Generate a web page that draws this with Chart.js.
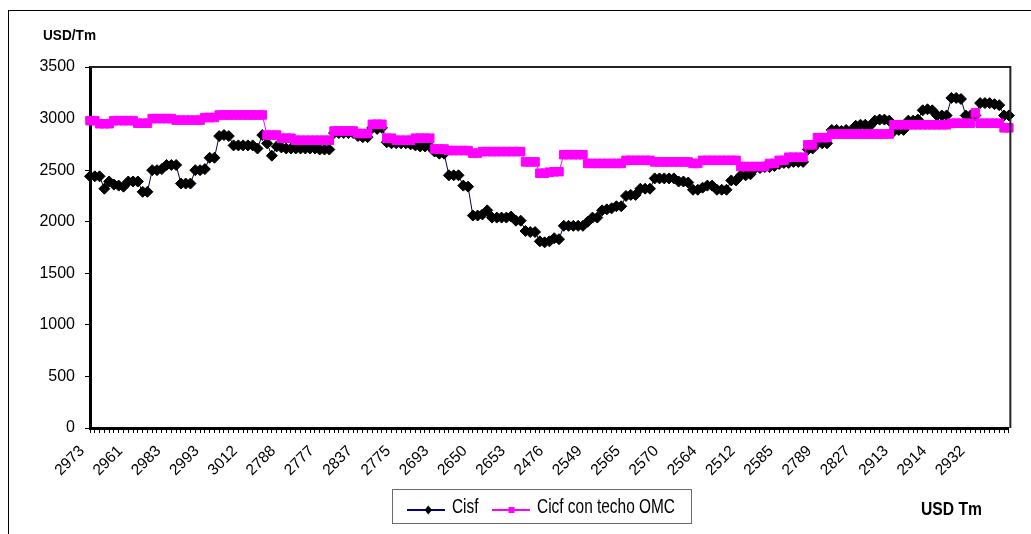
<!DOCTYPE html>
<html><head><meta charset="utf-8">
<script src="https://cdn.jsdelivr.net/npm/chart.js@4.4.0/dist/chart.umd.min.js"></script>
<style>html,body{margin:0;padding:0;background:#fff;}canvas{display:block}</style>
</head><body>
<canvas id="c" width="1031" height="534" style="width:1031px;height:534px"></canvas>
<script>
const tickLabels = ['2973','2961','2983','2993','3012','2788','2777','2837','2775','2693','2650','2653','2476','2549','2565','2570','2564','2512','2585','2789','2827','2913','2914','2932'];
const labelEvery = 8;
const seriesNames = ['Cisf', 'Cicf con techo OMC'];
const yAxisTitle = 'USD/Tm';
const xAxisTitle = 'USD Tm';

const cisf = [
2440,2440,2440,2320,2390,2360,2350,2340,2390,2390,
2390,2290,2290,2500,2500,2510,2550,2550,2550,2370,
2370,2370,2500,2500,2510,2620,2620,2830,2840,2830,
2740,2740,2740,2740,2740,2710,2840,2760,2640,2730,
2720,2710,2710,2710,2710,2710,2710,2710,2700,2700,
2700,2860,2860,2860,2860,2860,2830,2820,2820,2910,
2900,2910,2770,2760,2760,2760,2760,2750,2740,2730,
2730,2730,2680,2660,2660,2450,2450,2450,2350,2340,
2060,2060,2070,2110,2040,2040,2040,2040,2050,2010,
2010,1910,1900,1900,1810,1800,1810,1840,1830,1960,
1960,1960,1960,1960,2000,2040,2040,2110,2120,2130,
2150,2150,2250,2260,2260,2320,2320,2320,2420,2420,
2420,2420,2420,2390,2390,2380,2310,2310,2330,2350,
2350,2310,2310,2310,2400,2400,2450,2450,2460,2520,
2520,2530,2530,2540,2560,2570,2570,2580,2580,2580,
2700,2710,2760,2760,2760,2890,2890,2880,2890,2880,
2930,2940,2940,2930,2980,2990,2990,2980,2880,2890,
2890,2980,2980,2990,3080,3090,3080,3030,3030,3030,
3200,3200,3190,3030,3030,3030,3150,3150,3150,3140,
3130,3030,3030
];

const cicfTecho = [
2980,2980,2950,2950,2950,2980,2980,2980,2980,2980,
2955,2955,2955,3000,3000,3000,3000,3000,2985,2985,
2985,2985,2985,2985,3010,3010,3010,3035,3035,3035,
3035,3035,3035,3035,3035,3035,3035,2840,2840,2840,
2810,2810,2810,2790,2790,2790,2790,2790,2790,2790,
2790,2880,2880,2880,2880,2880,2855,2855,2855,2945,
2945,2945,2810,2810,2790,2790,2790,2790,2810,2810,
2810,2810,2705,2705,2705,2690,2690,2690,2690,2690,
2665,2665,2680,2680,2680,2680,2680,2680,2680,2680,
2680,2580,2580,2580,2470,2470,2480,2485,2485,2650,
2650,2650,2650,2650,2565,2565,2565,2565,2565,2565,
2565,2565,2595,2595,2595,2595,2595,2595,2580,2580,
2580,2580,2580,2580,2580,2580,2565,2565,2595,2595,
2595,2595,2595,2595,2595,2595,2535,2535,2535,2535,
2535,2535,2565,2565,2595,2595,2625,2625,2625,2625,
2745,2745,2815,2815,2815,2850,2850,2850,2850,2850,
2850,2850,2850,2850,2850,2850,2850,2850,2940,2940,
2940,2940,2940,2940,2940,2940,2940,2940,2940,2940,
2955,2955,2955,2955,2955,3055,2955,2955,2955,2955,
2955,2910,2910
];

const categories = cisf.map((_, i) => (i % labelEvery === 0 && tickLabels[i / labelEvery]) ? tickLabels[i / labelEvery] : '');

function fitText(ctx, text, x, y, width, font, color) {
  ctx.save();
  ctx.font = font;
  ctx.fillStyle = color;
  ctx.textAlign = 'left';
  ctx.textBaseline = 'alphabetic';
  const w = ctx.measureText(text).width;
  ctx.translate(x, y);
  ctx.scale(width / w, 1);
  ctx.fillText(text, 0, 0);
  ctx.restore();
}

const extras = {
  id: 'extras',
  afterDraw(chart) {
    const ctx = chart.ctx;
    const a = chart.chartArea;
    ctx.save();
    ctx.strokeStyle = '#000';
    ctx.lineWidth = 1;
    ctx.strokeRect(8.5, 10.5, 1100, 600);
    ctx.strokeStyle = '#222';
    ctx.lineWidth = 2;
    ctx.beginPath();
    ctx.moveTo(a.left, a.top);
    ctx.lineTo(a.right + 1.5, a.top);
    ctx.lineTo(a.right + 1.5, a.bottom);
    ctx.stroke();
    fitText(ctx, yAxisTitle, 43, 40, 53, 'bold 15px "Liberation Sans", Arial, sans-serif', '#000');
    fitText(ctx, xAxisTitle, 921, 515, 61, 'bold 18.5px "Liberation Sans", Arial, sans-serif', '#000');
    ctx.strokeStyle = '#6a6a6a';
    ctx.lineWidth = 1;
    ctx.strokeRect(392.5, 489.5, 299, 34);
    const ly = 510;
    ctx.strokeStyle = '#000080';
    ctx.lineWidth = 2;
    ctx.beginPath(); ctx.moveTo(407, ly); ctx.lineTo(445, ly); ctx.stroke();
    ctx.fillStyle = '#000';
    ctx.beginPath();
    ctx.moveTo(428.3, ly - 4.5); ctx.lineTo(432, ly); ctx.lineTo(428.3, ly + 4.5); ctx.lineTo(424.6, ly); ctx.closePath(); ctx.fill();
    fitText(ctx, seriesNames[0], 452, 513, 26.5, '20px "Liberation Sans", Arial, sans-serif', '#000');
    ctx.strokeStyle = '#FF00FF';
    ctx.lineWidth = 2;
    ctx.beginPath(); ctx.moveTo(492, ly); ctx.lineTo(530, ly); ctx.stroke();
    ctx.fillStyle = '#FF00FF';
    ctx.fillRect(508.5, ly - 3, 6, 6);
    fitText(ctx, seriesNames[1], 537, 513, 138, '20px "Liberation Sans", Arial, sans-serif', '#000');
    ctx.restore();
  }
};

new Chart(document.getElementById('c'), {
  type: 'line',
  data: {
    labels: categories,
    datasets: [
      { label: seriesNames[0], data: cisf, borderColor: '#000040', borderWidth: 1,
        pointStyle: 'rectRot', pointRadius: 5.5, pointBackgroundColor: '#000', pointBorderColor: '#000',
        pointBorderWidth: 1, tension: 0, order: 2 },
      { label: seriesNames[1], data: cicfTecho, borderColor: '#FF00FF', borderWidth: 1,
        pointStyle: 'rect', pointRadius: 6, pointBackgroundColor: '#FF00FF', pointBorderColor: '#FF00FF',
        pointBorderWidth: 1, tension: 0, order: 1 }
    ]
  },
  options: {
    responsive: false, animation: false, devicePixelRatio: 1,
    layout: { padding: { top: 67, right: 20, left: 0, bottom: 0 } },
    plugins: { legend: { display: false }, tooltip: { enabled: false }, title: { display: false } },
    scales: {
      x: {
        type: 'category', offset: false,
        grid: { display: true, drawOnChartArea: false, drawTicks: true, tickLength: 5, color: '#000', lineWidth: 1 },
        border: { display: true, color: '#000', width: 3 },
        ticks: { autoSkip: false, maxRotation: 45, minRotation: 45, padding: 9, labelOffset: -8,
          font: { family: 'Liberation Sans', size: 15.5 }, color: '#000' },
        afterFit: s => { s.height = 106; }
      },
      y: {
        min: 0, max: 3500,
        grid: { display: true, drawOnChartArea: false, drawTicks: true, tickLength: 5, color: '#000', lineWidth: 1 },
        border: { display: true, color: '#000', width: 3 },
        ticks: { stepSize: 500, padding: 10, font: { family: 'Liberation Sans', size: 16 }, color: '#000',
          callback: v => String(v) },
        afterFit: s => { s.width = 90; }
      }
    }
  },
  plugins: [extras]
});
</script>
</body></html>
